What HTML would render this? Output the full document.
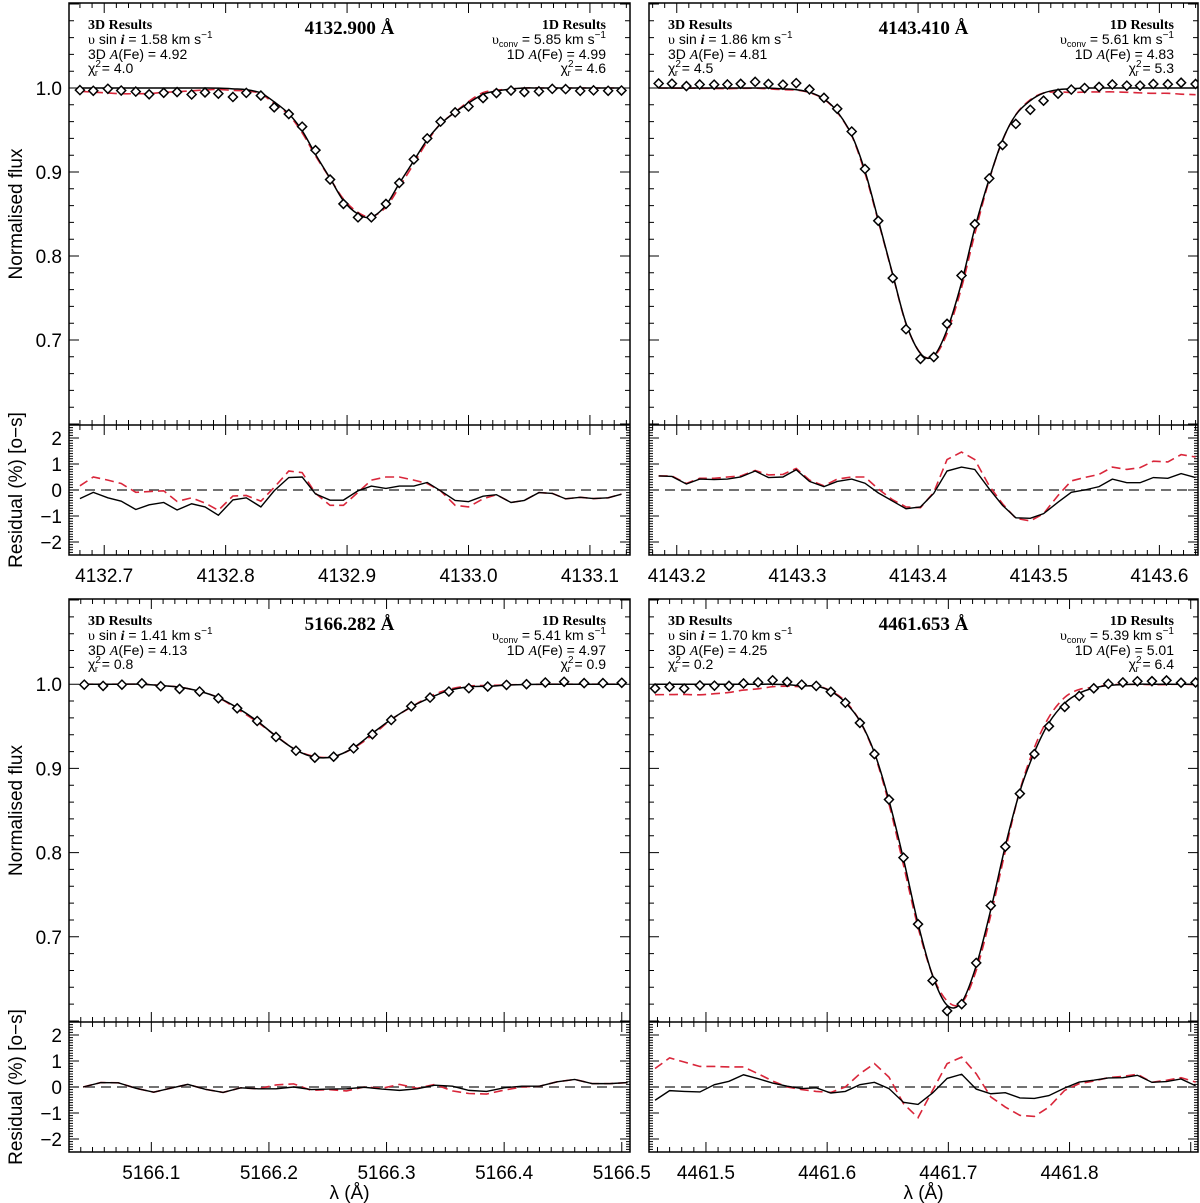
<!DOCTYPE html>
<html><head><meta charset="utf-8"><title>Fe line profiles</title>
<style>
html,body{margin:0;padding:0;background:#fff;}
svg{display:block;font-family:"Liberation Sans",sans-serif;}
.ser{font-family:"Liberation Serif",serif;}
</style></head>
<body>
<svg id="fig" xmlns="http://www.w3.org/2000/svg" width="1200" height="1203" viewBox="0 0 1200 1203"></svg>
<script>
// ---------- DATA ----------
// Panel A: 4132.900
const aWave=[4132.680,4132.691,4132.703,4132.714,4132.726,4132.737,4132.749,4132.760,4132.772,4132.783,4132.794,4132.806,4132.817,4132.829,4132.840,4132.852,4132.863,4132.874,4132.886,4132.897,4132.909,4132.920,4132.932,4132.943,4132.955,4132.966,4132.977,4132.989,4133.000,4133.012,4133.023,4133.035,4133.046,4133.058,4133.069,4133.080,4133.092,4133.103,4133.115,4133.126];
const aObs=[0.9975,0.9967,0.9991,0.997,0.9957,0.9925,0.9943,0.9952,0.9923,0.9947,0.9933,0.9893,0.9942,0.991,0.977,0.969,0.954,0.926,0.891,0.862,0.846,0.846,0.862,0.887,0.915,0.940,0.960,0.971,0.978,0.988,0.994,0.997,0.9952,0.996,0.999,0.9987,0.9966,0.9972,0.9967,0.997];
const aM3=[1,1,1,1,1,1,1,1,1,1,0.9998,0.999,0.998,0.994,0.9835,0.9693,0.9492,0.921,0.8925,0.8659,0.8499,0.8463,0.8605,0.8864,0.9135,0.9385,0.9571,0.9713,0.982,0.9925,0.9964,0.9988,1,1,1,1,1,1,1,1];
const aM1=[0.996,0.9951,0.9941,0.9932,0.9932,0.9934,0.9949,0.9955,0.9967,0.9977,0.9983,0.9971,0.9965,0.9931,0.9813,0.968,0.9467,0.9193,0.8923,0.8679,0.8519,0.8469,0.8582,0.882,0.91,0.9362,0.9575,0.9713,0.9839,0.9945,0.9974,0.9988,1,1,1,1,1,1,1,1];
const aR3=[-0.33,-0.09,-0.30,-0.43,-0.75,-0.57,-0.48,-0.77,-0.53,-0.65,-0.97,-0.38,-0.30,-0.65,-0.03,0.48,0.50,-0.15,-0.39,-0.39,-0.03,0.15,0.06,0.15,0.15,0.29,-0.03,-0.40,-0.45,-0.24,-0.18,-0.48,-0.40,-0.10,-0.13,-0.34,-0.28,-0.33,-0.30,-0.16];
const aR1=[0.16,0.50,0.38,0.25,-0.09,-0.06,-0.03,-0.44,-0.30,-0.50,-0.78,-0.23,-0.21,-0.43,0.10,0.73,0.67,-0.13,-0.59,-0.59,-0.09,0.38,0.50,0.50,0.38,0.25,-0.03,-0.59,-0.65,-0.34,-0.18,-0.48,-0.40,-0.10,-0.13,-0.34,-0.28,-0.33,-0.30,-0.16];
const aTicks=[4132.7,4132.8,4132.9,4133.0,4133.1];
const aTickLabels=["4132.7","4132.8","4132.9","4133.0","4133.1"];

// Panel B: 4143.410
const bWave=[4143.185,4143.196,4143.208,4143.219,4143.231,4143.242,4143.253,4143.265,4143.276,4143.288,4143.299,4143.310,4143.322,4143.333,4143.345,4143.356,4143.367,4143.379,4143.390,4143.402,4143.413,4143.424,4143.436,4143.447,4143.459,4143.470,4143.481,4143.493,4143.504,4143.516,4143.527,4143.538,4143.550,4143.561,4143.573,4143.584,4143.595,4143.607,4143.618,4143.630];
const bObs=[1.0054,1.0052,1.0023,1.0042,1.004,1.0042,1.005,1.0073,1.0048,1.004,1.0058,0.9983,0.9883,0.9753,0.9482,0.9036,0.8419,0.7737,0.7128,0.6775,0.6797,0.7193,0.7768,0.8379,0.8924,0.9321,0.9573,0.9741,0.9849,0.9933,0.9981,1.0,1.0013,1.0042,1.0028,1.0028,1.0048,1.0045,1.0063,1.0048];
const bM3=[1,1,1,1,1,1,1,1,1,0.999,0.998,0.995,0.987,0.972,0.944,0.901,0.843,0.778,0.720,0.684,0.681,0.712,0.768,0.833,0.892,0.938,0.968,0.985,0.994,0.998,0.999,1,1,1,1,1,1,1,1,1];
const bM1=[1.0,0.9998,0.9998,0.9997,0.9995,0.9992,0.9996,0.9998,0.999,0.998,0.9975,0.9945,0.9867,0.9711,0.9432,0.8986,0.8415,0.7775,0.7193,0.6843,0.6806,0.7076,0.7622,0.8262,0.8908,0.9374,0.9682,0.986,0.994,0.9954,0.9946,0.9952,0.9953,0.9954,0.9949,0.9942,0.9937,0.9937,0.9927,0.9921];
const bR3=[0.54,0.52,0.23,0.42,0.40,0.42,0.50,0.73,0.48,0.50,0.78,0.33,0.13,0.33,0.42,0.26,-0.11,-0.43,-0.72,-0.65,-0.13,0.73,0.88,0.79,0.04,-0.59,-1.07,-1.09,-0.91,-0.47,-0.09,0.0,0.13,0.42,0.28,0.28,0.48,0.45,0.63,0.48];
const bR1=[0.54,0.54,0.25,0.45,0.45,0.50,0.54,0.75,0.58,0.60,0.83,0.38,0.16,0.42,0.50,0.50,0.04,-0.38,-0.65,-0.68,-0.09,1.17,1.46,1.17,0.16,-0.53,-1.09,-1.19,-0.91,-0.21,0.35,0.48,0.60,0.88,0.79,0.86,1.11,1.08,1.36,1.27];
const bTicks=[4143.2,4143.3,4143.4,4143.5,4143.6];
const bTickLabels=["4143.2","4143.3","4143.4","4143.5","4143.6"];

// Panel C: 5166.282
const cWave=[5166.043,5166.059,5166.075,5166.092,5166.108,5166.124,5166.141,5166.157,5166.173,5166.190,5166.206,5166.223,5166.239,5166.255,5166.272,5166.288,5166.304,5166.321,5166.337,5166.353,5166.370,5166.386,5166.402,5166.419,5166.435,5166.451,5166.468,5166.484,5166.500];
const cObs=[0.9995,0.998,0.9995,1.001,0.9976,0.9944,0.9913,0.9833,0.9714,0.9563,0.9373,0.9210,0.9127,0.9139,0.9238,0.9405,0.9575,0.9738,0.9841,0.9913,0.9952,0.9972,0.9992,1.0,1.002,1.0029,1.0013,1.0013,1.0017];
const cM3=[1,1,1,1,0.9985,0.9965,0.9916,0.984,0.9721,0.9563,0.9383,0.9218,0.9134,0.914,0.9246,0.9418,0.9582,0.9731,0.9838,0.9926,0.9969,0.9975,0.9989,0.9997,1,1,1,1,1];
const cM1=[1,1,1,1,0.9985,0.9965,0.9916,0.984,0.9706,0.9551,0.9386,0.922,0.9142,0.9139,0.9243,0.9395,0.958,0.9728,0.9856,0.9938,0.9979,0.9984,0.9992,0.9997,1,1,1,1,1];
const cResWave=[5166.042,5166.057,5166.072,5166.087,5166.102,5166.116,5166.131,5166.146,5166.161,5166.176,5166.191,5166.206,5166.221,5166.236,5166.251,5166.266,5166.281,5166.296,5166.311,5166.326,5166.341,5166.356,5166.370,5166.385,5166.400,5166.415,5166.430,5166.445,5166.460,5166.475,5166.490,5166.505];
const cR3=[0,0.17,0.16,-0.05,-0.20,-0.05,0.10,-0.09,-0.21,-0.03,-0.07,-0.07,0,-0.10,-0.08,-0.07,-0.01,-0.08,-0.13,-0.07,0.07,0.03,-0.13,-0.17,-0.03,0.03,0.03,0.20,0.29,0.13,0.13,0.17];
const cR1=[0,0.17,0.16,-0.05,-0.20,-0.05,0.10,-0.09,-0.21,-0.03,-0.07,0.08,0.12,-0.13,-0.10,-0.15,0,-0.05,0.10,-0.05,0.10,-0.15,-0.25,-0.27,-0.12,0,0.03,0.20,0.29,0.13,0.13,0.17];
const cTicks=[5166.1,5166.2,5166.3,5166.4,5166.5];
const cTickLabels=["5166.1","5166.2","5166.3","5166.4","5166.5"];

// Panel D: 4461.653
const dWave=[4461.458,4461.470,4461.482,4461.495,4461.507,4461.519,4461.531,4461.543,4461.555,4461.567,4461.579,4461.591,4461.603,4461.615,4461.627,4461.639,4461.651,4461.663,4461.675,4461.687,4461.699,4461.711,4461.723,4461.735,4461.747,4461.759,4461.771,4461.783,4461.796,4461.808,4461.820,4461.832,4461.844,4461.856,4461.868,4461.880,4461.892,4461.904];
const dObs=[0.995,0.997,0.9949,0.9986,0.9983,0.9981,1.0009,1.0022,1.0047,1.0027,0.9995,0.998,0.991,0.978,0.954,0.917,0.863,0.794,0.715,0.648,0.612,0.620,0.669,0.737,0.807,0.870,0.917,0.950,0.973,0.986,0.9951,1.0004,1.0021,1.0035,1.0036,1.0045,1.0018,1.0021];
const dM3=[1,1,1,1,1,1,1,1,1,0.9995,0.998,0.9977,0.9916,0.9783,0.9563,0.9187,0.8621,0.7922,0.7156,0.6539,0.6187,0.6223,0.6657,0.7321,0.8078,0.8726,0.9192,0.9542,0.9774,0.9893,0.9955,0.9985,0.9995,1,1,1,1,1];
const dM1=[0.9875,0.9877,0.9878,0.9874,0.9887,0.9902,0.993,0.9945,0.997,0.9976,0.9972,0.998,0.992,0.9797,0.9561,0.917,0.8579,0.785,0.7112,0.6544,0.6238,0.6213,0.66,0.7255,0.8019,0.8738,0.9247,0.9609,0.9843,0.9937,0.9964,0.9991,0.9998,0.9999,0.9995,0.9996,1.0,0.9995];
const dR3=[-0.51,-0.14,-0.17,-0.19,0.09,0.22,0.47,0.32,0.15,0.03,-0.06,-0.03,-0.23,-0.17,0.09,0.18,-0.06,-0.59,-0.67,-0.23,0.33,0.49,-0.08,-0.26,-0.22,-0.42,-0.44,-0.33,-0.04,0.19,0.26,0.35,0.36,0.45,0.18,0.21,0.31,0.05];
const dR1=[0.71,1.12,0.96,0.79,0.79,0.77,0.77,0.51,0.23,0,-0.10,-0.17,-0.21,0,0.51,0.90,0.38,-0.64,-1.18,-0.13,0.90,1.15,0.51,-0.38,-0.77,-1.09,-1.13,-0.77,-0.13,0.13,0.23,0.36,0.41,0.49,0.18,0.26,0.36,0.19];
const dTicks=[4461.5,4461.6,4461.7,4461.8];
const dTickLabels=["4461.5","4461.6","4461.7","4461.8"];

const fluxTicks=[0.7,0.8,0.9,1.0];
const fluxTickLabels=["0.7","0.8","0.9","1.0"];
const resTicks=[-2,-1,0,1,2];
const resTickLabels=["\u22122","\u22121","0","1","2"];

// ---------- LAYOUT ----------
const NS="http://www.w3.org/2000/svg";
const svg=document.getElementById('fig');
function mk(tag,attrs,parent){const e=document.createElementNS(NS,tag);for(const k in attrs)e.setAttribute(k,attrs[k]);(parent||svg).appendChild(e);return e;}

const panels=[
 {key:'a',x0:69,x1:630,top:3,mid:425,bot:555,lmin:4132.671,lmax:4133.133,wave:aWave,rwave:aWave,obs:aObs,m3:aM3,m1:aM1,r3:aR3,r1:aR1,ticks:aTicks,tl:aTickLabels,left:true,bottomRow:false,
  title:"4132.900 \u00c5",vs:"1.58",a3:"4.92",c3:"4.0",vc:"5.85",a1:"4.99",c1:"4.6"},
 {key:'b',x0:649,x1:1198,top:3,mid:425,bot:555,lmin:4143.177,lmax:4143.632,wave:bWave,rwave:bWave,obs:bObs,m3:bM3,m1:bM1,r3:bR3,r1:bR1,ticks:bTicks,tl:bTickLabels,left:false,bottomRow:false,
  title:"4143.410 \u00c5",vs:"1.86",a3:"4.81",c3:"4.5",vc:"5.61",a1:"4.83",c1:"5.3"},
 {key:'c',x0:69,x1:630,top:599,mid:1022,bot:1152,lmin:5166.030,lmax:5166.507,wave:cWave,rwave:cResWave,obs:cObs,m3:cM3,m1:cM1,r3:cR3,r1:cR1,ticks:cTicks,tl:cTickLabels,left:true,bottomRow:true,
  title:"5166.282 \u00c5",vs:"1.41",a3:"4.13",c3:"0.8",vc:"5.41",a1:"4.97",c1:"0.9"},
 {key:'d',x0:649,x1:1198,top:599,mid:1022,bot:1152,lmin:4461.453,lmax:4461.906,wave:dWave,rwave:dWave,obs:dObs,m3:dM3,m1:dM1,r3:dR3,r1:dR1,ticks:dTicks,tl:dTickLabels,left:false,bottomRow:true,
  title:"4461.653 \u00c5",vs:"1.70",a3:"4.25",c3:"0.2",vc:"5.39",a1:"5.01",c1:"6.4"}
];
const FMIN=0.5988,FMAX=1.1012,RMIN=-2.5,RMAX=2.5;

function spline(pts){
  let d='M'+pts[0][0].toFixed(2)+','+pts[0][1].toFixed(2);
  for(let i=0;i<pts.length-1;i++){
    const p0=pts[Math.max(0,i-1)],p1=pts[i],p2=pts[i+1],p3=pts[Math.min(pts.length-1,i+2)];
    const c1x=p1[0]+(p2[0]-p0[0])/6,c1y=p1[1]+(p2[1]-p0[1])/6;
    const c2x=p2[0]-(p3[0]-p1[0])/6,c2y=p2[1]-(p3[1]-p1[1])/6;
    d+=' C'+c1x.toFixed(2)+','+c1y.toFixed(2)+' '+c2x.toFixed(2)+','+c2y.toFixed(2)+' '+p2[0].toFixed(2)+','+p2[1].toFixed(2);
  }
  return d;
}
function poly(pts){return pts.map((p,i)=>(i?'L':'M')+p[0].toFixed(2)+','+p[1].toFixed(2)).join(' ');}

panels.forEach(P=>{
  const g=mk('g',{});
  
  
  const X=l=>P.x0+(l-P.lmin)/(P.lmax-P.lmin)*(P.x1-P.x0);
  const Y=f=>P.top+(FMAX-f)/(FMAX-FMIN)*(P.mid-P.top);
  const R=r=>P.mid+(RMAX-r)/(RMAX-RMIN)*(P.bot-P.mid);
  const clipId='clip'+P.key, clipR='clipr'+P.key;
  const defs=mk('defs',{},g);
  const cp=mk('clipPath',{id:clipId},defs);mk('rect',{x:P.x0,y:P.top,width:P.x1-P.x0,height:P.mid-P.top},cp);
  const cr=mk('clipPath',{id:clipR},defs);mk('rect',{x:P.x0,y:P.mid,width:P.x1-P.x0,height:P.bot-P.mid},cr);

  const tk=mk('g',{stroke:'#000','stroke-width':1},g);
  
  
  let tpath='';
  const first=Math.ceil(P.lmin*100),last=Math.floor(P.lmax*100);
  for(let k=first;k<=last;k++){
    const x=X(k/100);const major=(k%10===0);const L=major?10:5;
    tpath+=`M${x},${P.top}v${L} M${x},${P.mid}v${-L} M${x},${P.mid}v${L} M${x},${P.bot}v${-L} `;
  }
  for(let k=60;k<=110;k+=2){
    const y=Y(k/100);if(y<P.top||y>P.mid)continue;const major=(k%10===0);const L=major?10:5;
    tpath+=`M${P.x0},${y}h${L} M${P.x1},${y}h${-L} `;
  }
  for(let k=-25;k<=25;k++){
    const y=R(k/10);const major=(k%10===0);const L=major?10:4;
    tpath+=`M${P.x0},${y}h${L} M${P.x1},${y}h${-L} `;
  }
  mk('path',{d:tpath,fill:'none'},tk);

  const gm=mk('g',{'clip-path':`url(#${clipId})`},g);
  const m1=mk('path',{d:spline(P.wave.map((l,i)=>[X(l),Y(P.m1[i])])),fill:'none',stroke:'#d9263a','stroke-width':1.6,'stroke-dasharray':'9,5'},gm);
  
  
  const m3=mk('path',{d:spline(P.wave.map((l,i)=>[X(l),Y(P.m3[i])])),fill:'none',stroke:'#000','stroke-width':1.5},gm);
  
  
  P.wave.forEach((l,i)=>{
    const x=X(l),y=Y(P.obs[i]);
    const dm=mk('path',{d:`M${x},${y-4.5}L${x+4.5},${y}L${x},${y+4.5}L${x-4.5},${y}Z`,fill:'#fff',stroke:'#000','stroke-width':1.5},gm);
    
    
  });

  const gr=mk('g',{'clip-path':`url(#${clipR})`},g);
  const z=mk('line',{x1:P.x0,x2:P.x1,y1:R(0),y2:R(0),stroke:'#444','stroke-width':1.5,'stroke-dasharray':'10,6'},gr);
  
  
  const rr1=mk('path',{d:poly(P.rwave.map((l,i)=>[X(l),R(P.r1[i])])),fill:'none',stroke:'#d9263a','stroke-width':1.6,'stroke-dasharray':'9,5'},gr);
  
  
  const rr3=mk('path',{d:poly(P.rwave.map((l,i)=>[X(l),R(P.r3[i])])),fill:'none',stroke:'#000','stroke-width':1.4},gr);
  
  

  const fr=mk('rect',{x:P.x0,y:P.top,width:P.x1-P.x0,height:P.bot-P.top,fill:'none',stroke:'#000','stroke-width':1.5},g);
  
  
  const sep=mk('line',{x1:P.x0,x2:P.x1,y1:P.mid,y2:P.mid,stroke:'#000','stroke-width':1.5},g);
  
  

  P.ticks.forEach((t,i)=>{
    const tx=mk('text',{x:X(t),y:P.bot+27,'text-anchor':'middle','font-size':19},g);
    tx.textContent=P.tl[i];
    
    
  });
  if(P.bottomRow){
    const xt=mk('text',{x:(P.x0+P.x1)/2,y:1199,'text-anchor':'middle','font-size':19},g);
    xt.textContent='\u03bb (\u00c5)';
    
    
  }
  if(P.left){
    fluxTicks.forEach((t,i)=>{
      const ty=mk('text',{x:62,y:Y(t)+7,'text-anchor':'end','font-size':19},g);
      ty.textContent=fluxTickLabels[i];
      
      
    });
    resTicks.forEach((t,i)=>{
      const ty=mk('text',{x:62,y:R(t)+7,'text-anchor':'end','font-size':19},g);
      ty.textContent=resTickLabels[i];
      
      
    });
    const cy=(P.top+P.mid)/2;
    const yt=mk('text',{x:0,y:0,transform:`translate(22,${cy}) rotate(-90)`,'text-anchor':'middle','font-size':19},g);
    yt.textContent='Normalised flux';
    
    
    const cy2=(P.mid+P.bot)/2;
    const yt2=mk('text',{x:0,y:0,transform:`translate(22,${cy2}) rotate(-90)`,'text-anchor':'middle','font-size':19},g);
    yt2.textContent='Residual (%) [o\u2212s]';
    
    
  }

  const L=P.x0+19, Rt=P.x1-24, b=P.top;
  const ti=mk('text',{x:(P.x0+P.x1)/2,y:b+31,'text-anchor':'middle','font-size':19,'font-weight':'bold',class:'ser'},g);
  ti.textContent=P.title;
  
  

  const ann=mk('text',{'font-size':14},g);
  
  
  ann.innerHTML=`<tspan x="${L}" y="${b+26}" class="ser" font-weight="bold" font-size="14">3D Results</tspan>`+
   `<tspan x="${L}" y="${b+41}"><tspan class="ser">\u03c5</tspan> sin <tspan class="ser" font-style="italic" font-weight="bold">i</tspan> = ${P.vs} km s<tspan dy="-6" font-size="10">\u22121</tspan></tspan>`+
   `<tspan x="${L}" y="${b+56}">3D <tspan class="ser" font-style="italic">A</tspan>(Fe) = ${P.a3}</tspan>`+
   `<tspan x="${L}" y="${b+70}">\u03c7<tspan dy="-6" font-size="10">2</tspan><tspan dx="-6" dy="9" font-size="9">r</tspan><tspan dy="-3"> = ${P.c3}</tspan></tspan>`;
  const ann2=mk('text',{'font-size':14,'text-anchor':'end'},g);
  
  
  ann2.innerHTML=`<tspan x="${Rt}" y="${b+26}" class="ser" font-weight="bold" font-size="14">1D Results</tspan>`+
   `<tspan x="${Rt}" y="${b+41}"><tspan class="ser">\u03c5</tspan><tspan dy="3" font-size="9">conv</tspan><tspan dy="-3"> = ${P.vc} km s</tspan><tspan dy="-6" font-size="10">\u22121</tspan></tspan>`+
   `<tspan x="${Rt}" y="${b+56}">1D <tspan class="ser" font-style="italic">A</tspan>(Fe) = ${P.a1}</tspan>`+
   `<tspan x="${Rt}" y="${b+70}">\u03c7<tspan dy="-6" font-size="10">2</tspan><tspan dx="-6" dy="9" font-size="9">r</tspan><tspan dy="-3"> = ${P.c1}</tspan></tspan>`;
});
</script>
</body></html>
